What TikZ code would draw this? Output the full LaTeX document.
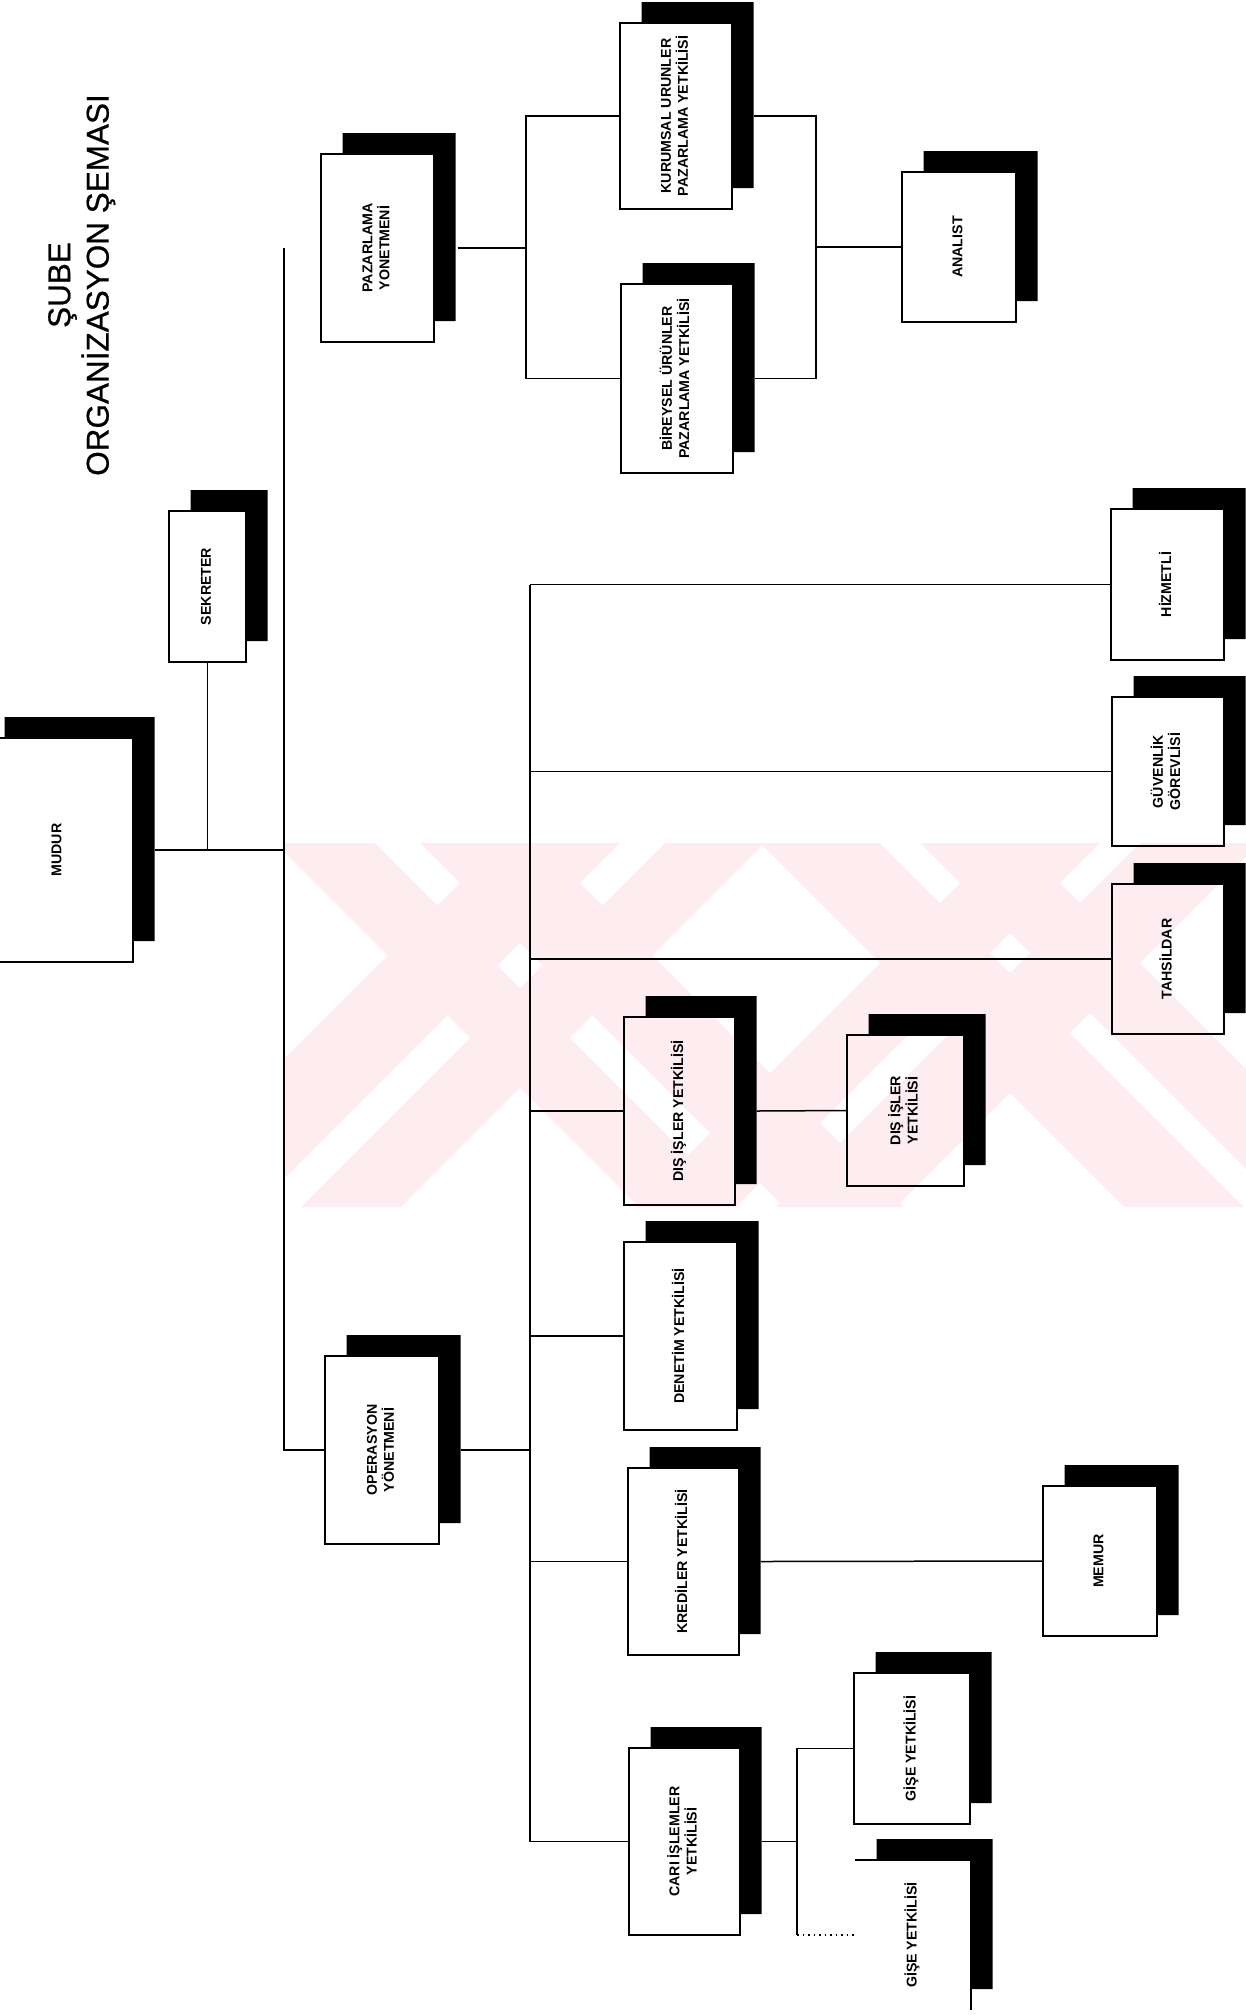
\documentclass[tikz,border=0pt]{standalone}
\usepackage{fontspec}
\usepackage{graphicx}
\setmainfont{Liberation Sans}
\newfontfamily\titlefont{Liberation Sans}[FakeBold=0.6]
\usetikzlibrary{calc}
\definecolor{wm}{RGB}{253,237,241}
\newcommand\sdx{21.5}
\newcommand\sdy{21}
\newcommand\shadowL[1]{%
  \fill[black] ($(#1.north west)+(\sdx,-\sdy)$) -- ($(#1.north east)+(\sdx,-\sdy)$)
   -- ($(#1.south east)+(\sdx,-\sdy)$) -- ($(#1.south east)+(0,-\sdy)$)
   -- (#1.north east) -- ($(#1.north west)+(\sdx,0)$) -- cycle;}
\newcommand\orgbox[7][draw]{%
  \node[boxst,#1,minimum width={(#5-(#3))*0.5pt},minimum height={(#6-(#4))*0.5pt}]
    (#2) at ({(#3+#5)/2},{(#4+#6)/2})
    {\rotatebox{90}{\begin{tabular}{@{}c@{}}#7\end{tabular}}};
  \shadowL{#2}}
\newcommand\wmback[2]{\fill[wm] (#1,843) -- ({#1+#2},843) -- ({#1+#2+364},1207) -- ({#1+364},1207) -- cycle;}
\newcommand\wmfwd[2]{\fill[wm] (#1,843) -- ({#1+#2},843) -- ({#1+#2-364},1207) -- ({#1-364},1207) -- cycle;}
\begin{document}
\begin{tikzpicture}[x=0.5pt,y=-0.5pt,
  ln/.style={line width=0.75pt},
  boxst/.style={line width=0.75pt,inner sep=0pt,outer sep=0pt,
    font={\bfseries\fontsize{7.1}{8.4}\selectfont}}]
\useasboundingbox (0,0) rectangle (1246,2015);
\clip (0,0) rectangle (1246,2015);
% watermark
\begin{scope}
  \clip (285,843) rectangle (1246,1207);
  \wmback{275}{100}\wmback{420}{120}
  \wmfwd{665}{100}\wmfwd{500}{120}
  \wmback{760}{120}\wmback{920}{100}
  \wmfwd{1140}{120}\wmfwd{1000}{100}
\end{scope}
% title
\node[font={\titlefont\fontsize{15.75}{18.5}\selectfont},inner sep=0pt] (title) at (82,285)
  {\rotatebox{90}{\begin{tabular}{@{}c@{}}ŞUBE\\ORGANİZASYON ŞEMASI\end{tabular}}};
% boxes
\orgbox{mud}{-17}{738}{133}{962}{MUDUR}
\orgbox{sek}{169}{511}{246}{662}{SEKRETER}
\orgbox{paz}{321}{154}{434}{342}{PAZARLAMA\\YONETMENİ}
\orgbox{kur}{620}{23}{732}{209}{KURUMSAL URUNLER\\PAZARLAMA YETKİLİSİ}
\orgbox{bir}{621}{284}{733}{473}{BİREYSEL ÜRÜNLER\\PAZARLAMA YETKİLİSİ}
\orgbox{ana}{902}{172}{1016}{322}{ANALIST}
\orgbox{hiz}{1111}{509}{1224}{660}{HİZMETLİ}
\orgbox{guv}{1112}{697}{1224}{846}{GÜVENLİK\\GÖREVLİSİ}
\orgbox{tah}{1112}{884}{1224}{1034}{TAHSİLDAR}
\orgbox{dis1}{624}{1017}{735}{1205}{DIŞ İŞLER YETKİLİSİ}
\orgbox{dis2}{847}{1035}{964}{1186}{DIŞ İŞLER\\YETKİLİSİ}
\orgbox{den}{624}{1242}{737}{1430}{DENETİM YETKİLİSİ}
\orgbox{ope}{325}{1356}{439}{1544}{OPERASYON\\YÖNETMENİ}
\orgbox{kre}{628}{1468}{739}{1655}{KREDİLER YETKİLİSİ}
\orgbox{mem}{1043}{1486}{1157}{1636}{MEMUR}
\orgbox{car}{629}{1748}{740}{1935}{CARI İŞLEMLER\\YETKİLİSİ}
\orgbox{gis1}{854}{1673}{970}{1824}{GİŞE YETKİLİSİ}
\orgbox[draw=none]{gis2}{855}{1860}{971}{2010}{GİŞE YETKİLİSİ}
\draw[ln] (gis2.north west) -- (gis2.north east) -- (gis2.south east);
% junction coordinates
\coordinate (jt) at (284,248);
\coordinate (pbl) at (526,0);
\coordinate (pbr) at (816,0);
\coordinate (ov) at (530,0);
\coordinate (gv) at (797,0);
% trunk
\draw[ln] (jt) -- (jt |- ope.west) -- (ope.west);
\draw[ln] ($(mud.east)+(\sdx,0)$) -- (mud.east -| jt);
\draw[ln] (sek.south) -- (sek.south |- mud.east);
% pazarlama
\draw[ln] ($(paz.east)+(\sdx+2,0)$) -- (paz.east -| pbl);
\draw[ln] (kur.west) -| (pbl |- bir.west) -- (bir.west);
\draw[ln] ($(kur.east)+(\sdx,0)$) -| (pbr |- bir.east) -- ($(bir.east)+(\sdx,0)$);
\draw[ln] (pbr |- ana.west) -- (ana.west);
% operasyon
\draw[ln] ($(ope.east)+(\sdx,0)$) -- (ope.east -| ov);
\draw[ln] (ov |- hiz.west) -- (ov |- car.west) -- (car.west);
\draw[ln] (ov |- hiz.west) -- (hiz.west);
\draw[ln] (ov |- guv.west) -- (guv.west);
\draw[ln] (ov |- tah.west) -- (tah.west);
\draw[ln] (ov |- dis1.west) -- (dis1.west);
\draw[ln] (ov |- den.west) -- (den.west);
\draw[ln] (ov |- kre.west) -- (kre.west);
\draw[ln] ($(dis1.east)+(\sdx,0)$) -- (dis2.west);
\draw[ln] ($(kre.east)+(\sdx,0)$) -- (mem.west);
% gise
\draw[ln] ($(car.east)+(\sdx,0)$) -- (car.east -| gv);
\draw[ln] (gis1.west) -| (gv |- gis2.west);
\draw[ln,dotted] (gv |- gis2.west) -- (gis2.west);
\end{tikzpicture}
\end{document}
